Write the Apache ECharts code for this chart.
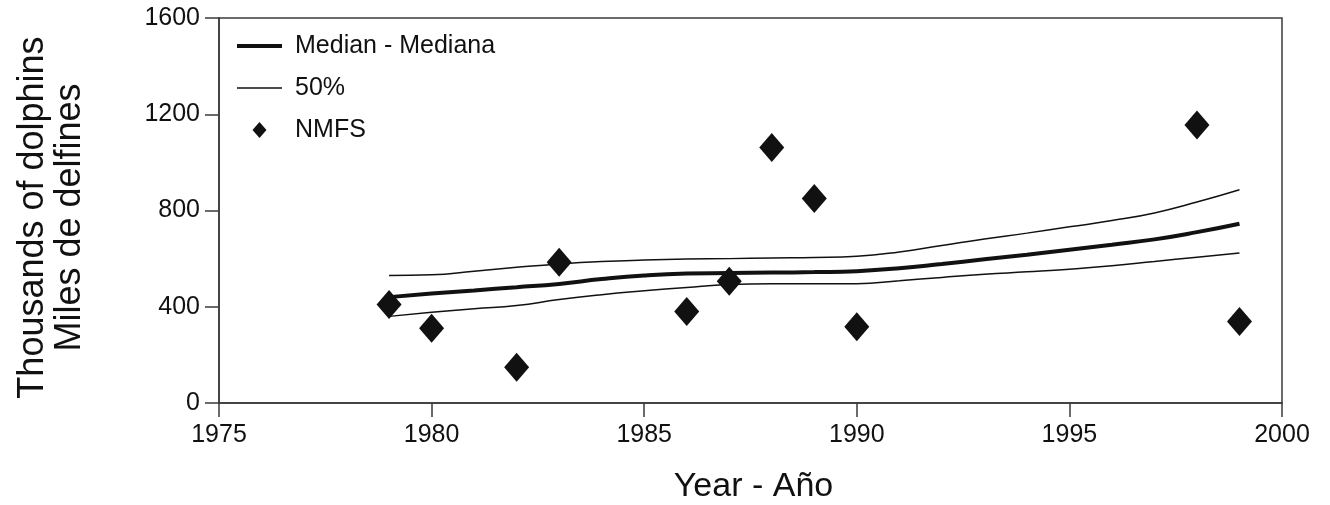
<!DOCTYPE html>
<html lang="en">
<head>
    <meta charset="UTF-8">
    <title>Dolphins</title>
</head>
<body style="margin:0;background:#fff;">
<div id="main" style="width:1330px;height:505px;"></div>

<script src="https://cdn.jsdelivr.net/npm/echarts@6/dist/echarts.min.js"></script>
<script>
    // valores
    var years = [1979, 1980, 1981, 1982, 1983, 1984, 1985, 1986, 1987, 1988, 1989,
        1990, 1991, 1992, 1993, 1994, 1995, 1996, 1997, 1998, 1999];
    var median = [440, 455, 468, 481, 495, 515, 530, 538, 540, 542, 544,
        548, 560, 578, 597, 616, 637, 658, 680, 710, 745];
    var upper = [530, 533, 548, 564, 578, 588, 594, 598, 600, 603, 605,
        610, 628, 655, 682, 706, 732, 758, 790, 835, 886];
    var lower = [360, 377, 392, 405, 430, 450, 466, 480, 492, 496, 496,
        496, 508, 522, 535, 545, 556, 570, 588, 606, 623];
    var nmfsYears = [1979, 1980, 1982, 1983, 1986, 1987, 1988, 1989, 1990, 1998, 1999];
    var nmfsValues = [409, 311, 149, 585, 380, 506, 1062, 850, 317, 1155, 339];
    var yTicks = [0, 400, 800, 1200, 1600];

    function pairs(xs, ys) {
        return xs.map(function (x, i) { return [x, ys[i]]; });
    }

    var font = 'Liberation Sans, Arial, sans-serif';
    var ink = '#111';
    var axisColor = '#3a3a3a';

    var myChart = echarts.init(document.getElementById('main'));
    myChart.setOption({
        animation: false,
        textStyle: {fontFamily: font, color: ink},
        grid: {
            left: 219, right: 48, top: 18, bottom: 102,
            outerBoundsMode: 'none', containLabel: false,
            show: true, borderColor: axisColor, borderWidth: 1.5
        },
        legend: {
            orient: 'vertical',
            left: 232, top: 28,
            itemWidth: 45, itemHeight: 16, itemGap: 16,
            symbolKeepAspect: true,
            textStyle: {fontSize: 25, lineHeight: 26, color: ink, fontFamily: font, padding: [0, 0, 0, 8]},
            data: [
                {name: 'Median - Mediana', icon: 'path://M0,0 H45 V4 H0 Z'},
                {name: '50%', icon: 'path://M0,0 H45 V1.6 H0 Z'},
                {name: 'NMFS', icon: 'path://M7,0 L14,8 L7,16 L0,8 Z'}
            ]
        },
        xAxis: {
            type: 'value', min: 1975, max: 2000, interval: 5,
            name: 'Year - Año', nameLocation: 'middle', nameGap: 67,
            nameTextStyle: {fontSize: 34, color: ink, padding: [0, 0, 0, 6]},
            axisLine: {lineStyle: {color: axisColor, width: 1.5}},
            axisTick: {length: 14, lineStyle: {color: axisColor, width: 1.5}},
            axisLabel: {fontSize: 25, color: ink, margin: 20, formatter: function (v) { return String(v); }},
            splitLine: {show: false}
        },
        yAxis: {
            type: 'value', min: yTicks[0], max: yTicks[yTicks.length - 1], interval: 400,
            name: 'Thousands of dolphins\nMiles de delfines', nameLocation: 'middle',
            nameGap: 130, nameRotate: 90,
            nameTextStyle: {fontSize: 36, color: ink, lineHeight: 37, padding: [0, 14, 0, 0]},
            axisLine: {lineStyle: {color: axisColor, width: 1.5}},
            axisTick: {length: 14, lineStyle: {color: axisColor, width: 1.5}},
            axisLabel: {fontSize: 25, color: ink, margin: 19, formatter: function (v) { return String(v); }},
            splitLine: {show: false}
        },
        series: [
            {
                name: 'Median - Mediana', type: 'line', smooth: true,
                symbol: 'none', data: pairs(years, median),
                lineStyle: {color: ink, width: 4}, itemStyle: {color: ink}
            },
            {
                name: '50%', type: 'line', smooth: true,
                symbol: 'none', data: pairs(years, upper),
                lineStyle: {color: ink, width: 1.5}, itemStyle: {color: ink}
            },
            {
                name: '50%', type: 'line', smooth: true,
                symbol: 'none', data: pairs(years, lower),
                lineStyle: {color: ink, width: 1.5}, itemStyle: {color: ink}
            },
            {
                name: 'NMFS', type: 'scatter', symbol: 'diamond',
                symbolSize: [25, 29], data: pairs(nmfsYears, nmfsValues),
                itemStyle: {color: ink, opacity: 1}, z: 5
            }
        ]
    });
</script>
</body>
</html>
